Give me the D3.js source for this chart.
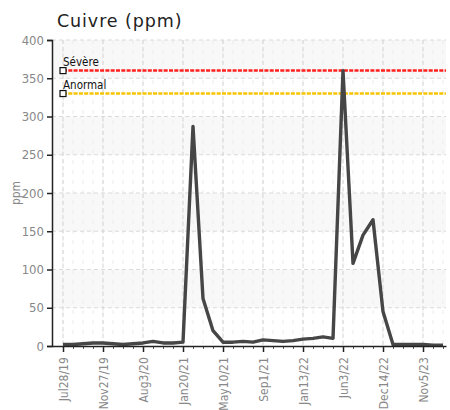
<!DOCTYPE html>
<html>
<head>
<meta charset="utf-8">
<script src="https://cdn.jsdelivr.net/npm/d3@7"></script>
<style>
  body { margin: 0; background: #fff; }
  svg { display: block; }
</style>
</head>
<body>
<svg id="chart" width="450" height="410"></svg>
<script>
// sample values (ppm), one per sample
const values = [2, 2, 3, 4, 4, 3, 2, 3, 4, 6, 4, 4, 5, 287, 62, 20, 5, 5, 6, 5,
                8, 7, 6, 7, 9, 10, 12, 10, 360, 108, 145, 165, 45, 2, 2, 2, 2, 1, 1];
// labels shown every 4th sample
const tickLabels = ['Jul28/19', 'Nov27/19', 'Aug3/20', 'Jan20/21', 'May10/21',
                    'Sep1/21', 'Jan13/22', 'Jun3/22', 'Dec14/22', 'Nov5/23'];
const yTicks = [0, 50, 100, 150, 200, 250, 300, 350, 400];
const limits = [
    { name: 'Sévère', value: 360, color: '#ff2020' },
    { name: 'Anormal', value: 330, color: '#f8c400' }
];

const margin = { top: 40, right: 4, bottom: 64, left: 52 };
const width  = 450 - margin.left - margin.right;
const height = 410 - margin.top - margin.bottom;

const svg = d3.select('#chart');

svg.append('text')
    .attr('x', 57).attr('y', 27)
    .attr('font-family', 'DejaVu Sans, Verdana, sans-serif')
    .attr('font-size', 17.5)
    .attr('letter-spacing', 0.9)
    .attr('fill', '#222')
    .text('Cuivre (ppm)');

const g = svg.append('g').attr('transform', `translate(${margin.left},${margin.top})`);

const x = d3.scaleLinear().domain([-1.1, values.length - 0.7]).range([0, width]);
const y = d3.scaleLinear().domain([0, 400]).range([height, 0]);

// alternating bands
g.selectAll('rect.band')
    .data([50, 150, 250, 350])
    .join('rect')
    .attr('class', 'band')
    .attr('x', 0).attr('width', width)
    .attr('y', d => y(d + 50))
    .attr('height', d => y(d) - y(d + 50))
    .attr('fill', '#f8f8f8');

// minor vertical grid
g.selectAll('line.minor')
    .data(d3.range(values.length))
    .join('line')
    .attr('class', 'minor')
    .attr('x1', d => x(d)).attr('x2', d => x(d))
    .attr('y1', 0).attr('y2', height)
    .attr('stroke', '#ececec')
    .attr('stroke-dasharray', '4,6');

// major grid
g.selectAll('line.hgrid')
    .data(yTicks.slice(1))
    .join('line')
    .attr('class', 'hgrid')
    .attr('x1', 0).attr('x2', width)
    .attr('y1', d => y(d)).attr('y2', d => y(d))
    .attr('stroke', '#dadada')
    .attr('stroke-dasharray', '4,3');

g.selectAll('line.vgrid')
    .data(tickLabels.map((d, i) => i * 4))
    .join('line')
    .attr('class', 'vgrid')
    .attr('x1', d => x(d)).attr('x2', d => x(d))
    .attr('y1', 0).attr('y2', height)
    .attr('stroke', '#d4d4d4')
    .attr('stroke-dasharray', '4,3');

// limit lines
limits.forEach(l => {
    g.append('line')
        .attr('x1', x(0)).attr('x2', width)
        .attr('y1', y(l.value)).attr('y2', y(l.value))
        .attr('stroke', l.color)
        .attr('stroke-width', 2.5)
        .attr('stroke-dasharray', '4,1.3');
    g.append('rect')
        .attr('x', x(0) - 3).attr('y', y(l.value) - 3)
        .attr('width', 6).attr('height', 6)
        .attr('fill', '#fff').attr('stroke', '#111').attr('stroke-width', 1.2);
    g.append('text')
        .attr('x', x(0)).attr('y', y(l.value) - 4.5)
        .attr('font-family', 'DejaVu Sans Condensed, DejaVu Sans, sans-serif')
        .attr('font-stretch', 'condensed')
        .attr('font-size', 11.5)
        .attr('fill', '#111')
        .text(l.name);
});

// data line
const line = d3.line().x((d, i) => x(i)).y(d => y(d));
g.append('path')
    .datum(values)
    .attr('d', line)
    .attr('fill', 'none')
    .attr('stroke', '#464646')
    .attr('stroke-width', 3.4)
    .attr('stroke-linejoin', 'round');

// axes
const yAxis = g.append('g')
    .call(d3.axisLeft(y).tickValues(yTicks).tickSize(5).tickPadding(3));
yAxis.select('.domain').attr('stroke', '#222').attr('stroke-width', 1.5);
yAxis.selectAll('.tick line').attr('stroke', '#222').attr('stroke-width', 1.5);
yAxis.selectAll('text')
    .attr('font-family', 'DejaVu Sans Condensed, DejaVu Sans, sans-serif')
    .attr('font-stretch', 'condensed')
    .attr('font-size', 13)
    .attr('fill', '#888');

// minor x ticks
const xMinor = g.append('g')
    .attr('transform', `translate(0,${height})`)
    .call(d3.axisBottom(x).tickValues(d3.range(values.length)).tickSize(3).tickFormat(''));
xMinor.select('.domain').remove();
xMinor.selectAll('.tick line').attr('stroke', '#555');

const xAxis = g.append('g')
    .attr('transform', `translate(0,${height})`)
    .call(d3.axisBottom(x)
        .tickValues(tickLabels.map((d, i) => i * 4))
        .tickFormat((d, i) => tickLabels[i])
        .tickSize(6).tickSizeOuter(0));
xAxis.select('.domain').attr('stroke', '#222').attr('stroke-width', 1.5);
xAxis.selectAll('.tick line').attr('stroke', '#222').attr('stroke-width', 1.5);
xAxis.selectAll('text')
    .attr('font-family', 'DejaVu Sans Condensed, DejaVu Sans, sans-serif')
    .attr('font-stretch', 'condensed')
    .attr('font-size', 12)
    .attr('fill', '#888')
    .attr('transform', 'rotate(-90)')
    .attr('text-anchor', 'end')
    .attr('dx', '-0.6em')
    .attr('dy', '0.35em')
    .attr('y', 0)
    .attr('x', -4);

svg.append('text')
    .attr('transform', `translate(20,${margin.top + height / 2}) rotate(-90)`)
    .attr('text-anchor', 'middle')
    .attr('font-family', 'DejaVu Sans Condensed, DejaVu Sans, sans-serif')
    .attr('font-stretch', 'condensed')
    .attr('font-size', 12)
    .attr('fill', '#888')
    .text('ppm');
</script>
</body>
</html>
